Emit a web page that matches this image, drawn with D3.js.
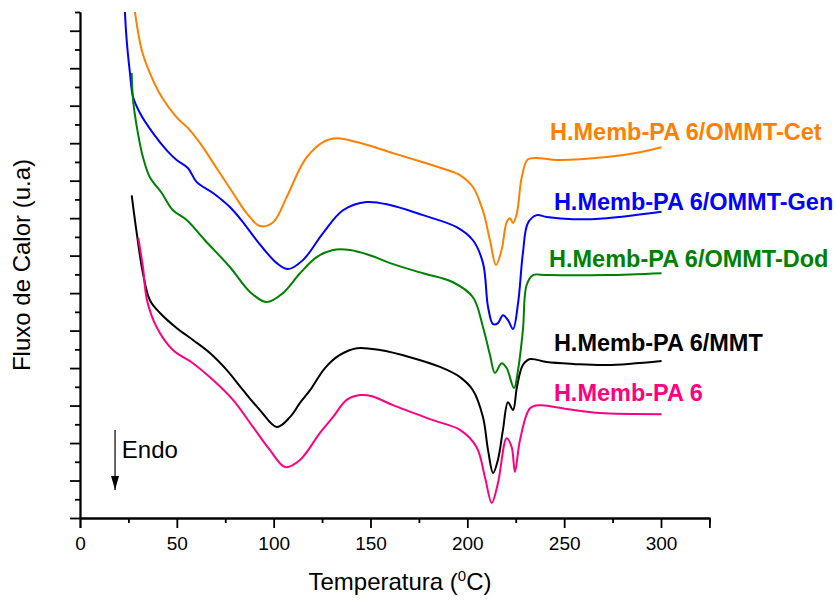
<!DOCTYPE html>
<html lang="pt">
<head>
<meta charset="UTF-8" />
<title>DSC - H.Memb-PA 6</title>
<script src="https://d3js.org/d3.v7.min.js"></script>
<style>
  body { margin: 0; background: #fff; }
  svg text { font-family: "Liberation Sans", Arial, sans-serif; }
  .axis path, .axis line { stroke: #000; stroke-width: 1.8; }
  .axis text { font-size: 19px; fill: #000; }
</style>
</head>
<body>
<div id="chart"></div>
<script>
// curves: [temperature (C), heat flow (u.a)]
var cetData = [[27.0,14.2],[28.4,13.49],[31.9,12.48],[36.1,11.87],[42.2,11.23],[49.9,10.69],[55.8,10.40],[62.0,10.0],
  [70.6,9.33],[79.0,8.67],[86.1,8.13],[92.9,7.79],[99.7,7.89],[106.7,8.56],[113.6,9.33],[117.1,9.63],[125.5,10.03],
  [132.5,10.13],[142.9,10.03],[160.1,9.76],[177.1,9.49],[192.6,9.23],[196.2,9.15],[202.9,8.83],[208.1,8.19],
  [211.7,7.41],[214.8,6.75],[217.7,7.15],[220.3,7.89],[222.0,8.0],[223.6,7.87],[225.6,8.13],[228.1,9.09],
  [231.3,9.57],[237.5,9.60],[246.1,9.55],[272.0,9.63],[289.2,9.76],[300.3,9.89]];

var genData = [[22.8,14.2],[23.2,13.49],[24.1,12.75],[25.8,11.87],[27.4,11.23],[31.0,10.8],[37.7,10.27],[44.8,9.81],
  [49.9,9.55],[55.8,9.33],[60.3,8.96],[68.7,8.67],[77.5,8.29],[84.2,7.89],[91.2,7.41],[101.6,6.8],[107.4,6.64],
  [115.1,6.88],[125.5,7.6],[135.8,8.21],[148.0,8.43],[160.1,8.35],[177.1,8.08],[194.5,7.76],[202.9,7.41],
  [208.1,6.8],[210.7,5.63],[213.3,5.17],[215.8,5.2],[218.4,5.41],[221.0,5.28],[223.6,5.04],[226.2,5.73],
  [228.7,7.07],[231.3,7.87],[235.8,8.08],[241.0,8.03],[254.6,7.97],[272.0,8.0],[300.3,8.17]];

var dodData = [[26.7,11.87],[27.4,11.15],[29.9,10.27],[32.5,9.63],[36.1,9.09],[42.2,8.67],[48.0,8.21],[55.1,7.95],
  [64.5,7.41],[77.5,6.69],[87.8,6.03],[96.4,5.76],[104.8,6.0],[113.6,6.53],[122.2,6.96],[130.6,7.15],[139.4,7.15],
  [149.7,7.01],[160.1,6.8],[177.1,6.53],[192.6,6.29],[202.9,5.89],[208.1,5.09],[211.7,4.35],[214.3,3.87],
  [217.7,4.13],[220.3,4.0],[224.1,3.47],[226.2,3.95],[228.7,5.01],[230.6,6.21],[233.9,6.48],[241.0,6.48],
  [272.0,6.48],[300.3,6.53]];

var mmtData = [[26.7,8.61],[29.3,7.6],[32.5,6.53],[36.1,5.81],[41.3,5.47],[49.9,5.07],[58.3,4.75],[67.1,4.4],
  [75.7,3.95],[84.2,3.41],[92.9,2.88],[101.6,2.43],[108.4,2.69],[113.6,3.07],[118.8,3.41],[126.5,4.0],[134.2,4.35],
  [143.0,4.53],[154.9,4.48],[170.4,4.29],[185.9,4.03],[196.2,3.76],[202.9,3.41],[208.1,2.69],[210.7,1.81],
  [213.3,1.2],[215.8,1.55],[218.4,2.35],[221.0,3.09],[223.6,2.88],[225.6,3.49],[228.7,4.08],[232.4,4.24],
  [241.0,4.16],[254.6,4.11],[272.0,4.08],[300.3,4.19]];

var pa6Data = [[30.1,7.47],[32.5,6.69],[34.6,5.81],[39.6,5.09],[48.0,4.48],[58.3,4.13],[68.7,3.68],[79.0,3.15],
  [89.3,2.43],[98.1,1.81],[105.9,1.36],[113.6,1.55],[123.9,2.27],[130.6,2.69],[137.7,3.15],[144.6,3.28],
  [150.8,3.25],[161.6,3.01],[182.3,2.61],[196.2,2.35],[204.8,1.89],[209.1,1.09],[212.6,0.4],[215.8,0.93],
  [220.3,2.13],[222.9,1.89],[224.6,1.23],[227.2,2.08],[232.4,2.93],[237.5,3.01],[251.3,2.91],[268.5,2.8],[300.3,2.77]];

var seriesNames = ["H.Memb-PA 6/OMMT-Cet", "H.Memb-PA 6/OMMT-Gen", "H.Memb-PA 6/OMMT-Dod", "H.Memb-PA 6/MMT", "H.Memb-PA 6"];
var seriesColors = ["#ff8000", "#0000ff", "#008000", "#000000", "#ff0080"];
var seriesData = [cetData, genData, dodData, mmtData, pa6Data];

var xMajor = [0, 50, 100, 150, 200, 250, 300];
var xMinor = [25, 75, 125, 175, 225, 275, 325];
var yMajor = d3.range(0, 14, 1);
var yMinor = d3.range(0.5, 14, 1);

// where the name of each curve sits, in data units
var labelPos = [[242.7, 10.08], [244.7, 8.21], [242.2, 6.69], [244.7, 4.45], [244.7, 3.13]];

var margin = {top: 12, right: 126, bottom: 86, left: 80},
    width = 836 - margin.left - margin.right,
    height = 604 - margin.top - margin.bottom;

var svg = d3.select("#chart")
  .append("svg")
    .attr("width", 836)
    .attr("height", 604)
  .append("g")
    .attr("transform", "translate(" + margin.left + "," + margin.top + ")");

var x = d3.scaleLinear().domain([0, 325]).range([0, 629.4]);
var y = d3.scaleLinear().domain([0, 13.5]).range([height, 0]);

svg.append("clipPath").attr("id", "plotClip")
  .append("rect").attr("x", 0).attr("y", 0).attr("width", 640).attr("height", height);

// axes: major ticks with labels on x, minor ticks shorter
svg.append("g").attr("class", "axis")
  .attr("transform", "translate(0," + height + ")")
  .call(d3.axisBottom(x).tickValues(xMajor).tickSize(10).tickPadding(9).tickFormat(d3.format("d")));
svg.append("g").attr("class", "axis")
  .attr("transform", "translate(0," + height + ")")
  .call(d3.axisBottom(x).tickValues(xMinor).tickSize(5).tickSizeOuter(0).tickFormat(""));
svg.append("g").attr("class", "axis")
  .call(d3.axisLeft(y).tickValues(yMajor).tickSize(10).tickSizeOuter(0).tickFormat(""));
svg.append("g").attr("class", "axis")
  .call(d3.axisLeft(y).tickValues(yMinor).tickSize(5).tickSizeOuter(0).tickFormat(""));

var line = d3.line()
  .curve(d3.curveCatmullRom.alpha(0.5))
  .x(function(d) { return x(d[0]); })
  .y(function(d) { return y(d[1]); });

seriesData.forEach(function(data, i) {
  svg.append("path")
    .datum(data)
    .attr("clip-path", "url(#plotClip)")
    .attr("fill", "none")
    .attr("stroke", seriesColors[i])
    .attr("stroke-width", 2)
    .attr("d", line);

  svg.append("text")
    .attr("x", x(labelPos[i][0]))
    .attr("y", y(labelPos[i][1]))
    .attr("fill", seriesColors[i])
    .style("font-size", "23.5px")
    .style("font-weight", "bold")
    .text(seriesNames[i]);
});

// Endo arrow
svg.append("defs").append("marker")
  .attr("id", "arrowHead")
  .attr("viewBox", "0 0 10 10")
  .attr("preserveAspectRatio", "none")
  .attr("refX", 10).attr("refY", 5)
  .attr("markerWidth", 14).attr("markerHeight", 8)
  .attr("markerUnits", "userSpaceOnUse")
  .attr("orient", "auto")
  .append("path").attr("d", "M0,0 L10,5 L0,10 Z").attr("fill", "#000");

svg.append("line")
  .attr("x1", x(18.1)).attr("y1", y(2.35))
  .attr("x2", x(18.1)).attr("y2", y(0.75))
  .attr("stroke", "#000").attr("stroke-width", 1.2)
  .attr("marker-end", "url(#arrowHead)");

svg.append("text")
  .attr("x", x(21.6)).attr("y", y(1.6))
  .style("font-size", "24px")
  .text("Endo");

// axis titles
var xTitle = svg.append("text")
  .attr("x", width / 2 + 5)
  .attr("y", height + 72)
  .attr("text-anchor", "middle")
  .style("font-size", "24px");
xTitle.append("tspan").text("Temperatura (");
xTitle.append("tspan").attr("dy", -9).style("font-size", "15px").text("0");
xTitle.append("tspan").attr("dy", 9).text("C)");

svg.append("text")
  .attr("transform", "rotate(-90)")
  .attr("x", -height / 2)
  .attr("y", -50)
  .attr("text-anchor", "middle")
  .style("font-size", "24px")
  .text("Fluxo de Calor (u.a)");
</script>
</body>
</html>
